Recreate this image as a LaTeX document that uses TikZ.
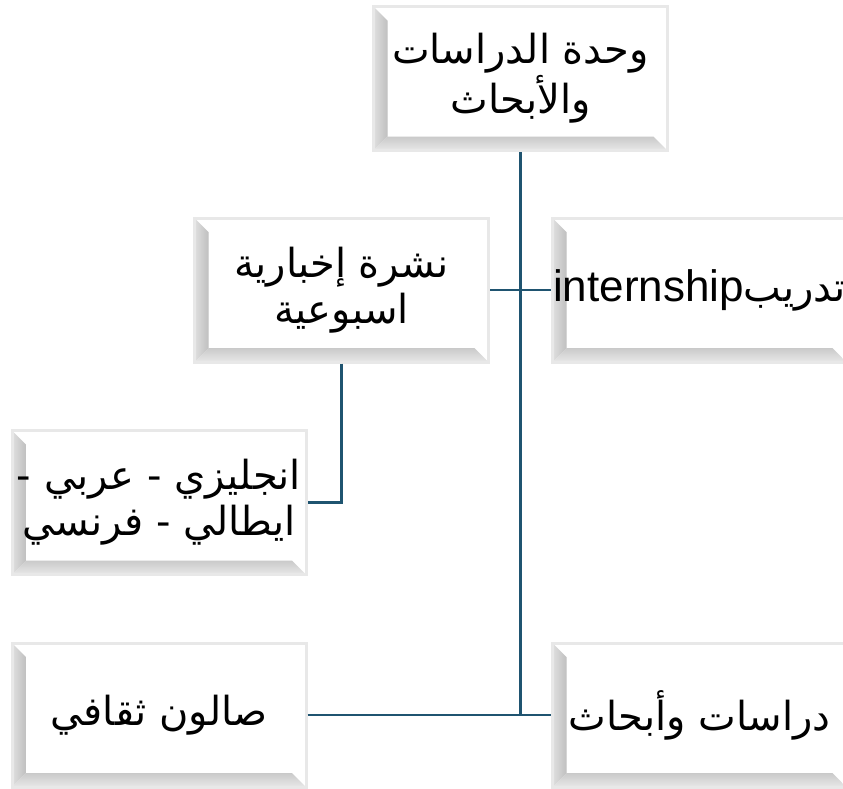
\documentclass[tikz,border=0pt]{standalone}
\usepackage{fontspec}
\usetikzlibrary{calc}
\newfontfamily\arabicfont[Script=Arabic]{DejaVu Sans}
\newfontfamily\latinfont{Liberation Sans}
\TeXXeTstate=1
\definecolor{linkcol}{RGB}{31,84,112}
\tikzset{>=latex}
\tikzset{
	bevelbox/.style={draw=gray!18, line width=1.5pt, fill=white,
		minimum width=147pt, minimum height=72pt, inner sep=0pt, align=center,
		font=\arabicfont\fontsize{20}{23}\selectfont,
		path picture={
			\coordinate (bsw) at (path picture bounding box.south west);
			\coordinate (bnw) at (path picture bounding box.north west);
			\coordinate (bse) at (path picture bounding box.south east);
			\shade[left color=gray!25, right color=gray!50] (bsw) -- (bnw) -- ($(bnw)+(7pt,-7pt)$) -- ($(bsw)+(7pt,7pt)$) -- cycle;
			\shade[bottom color=gray!18, top color=gray!42] (bsw) -- ($(bsw)+(7pt,7pt)$) -- ($(bse)+(-7pt,7pt)$) -- (bse) -- cycle;
		}},
	link/.style={draw=linkcol, line width=1.3pt}
}

\begin{document}
\begin{tikzpicture}[x=0.5pt,y=-0.5pt]
	\useasboundingbox (0,0) rectangle (843,789);
	\clip (0,0) rectangle (843,789);
	
	\node[bevelbox] (unit) at (520.5,78.5) {\beginR وحدة الدراسات\endR\\\beginR والأبحاث\endR};
	\node[bevelbox] (news) at (341.5,290) {\beginR نشرة إخبارية\endR\\\beginR اسبوعية\endR};
	\node[bevelbox] (intern) at (699.5,290) {\beginR تدريب\beginL{\latinfont\fontsize{22}{23}\selectfont internship}\endL\endR};
	\node[bevelbox] (lang) at (159,502.5) {\beginR انجليزي - عربي -\endR\\\beginR ايطالي - فرنسي\endR};
	\node[bevelbox] (salon) at (159,715) {\beginR صالون ثقافي\endR};
	\node[bevelbox] (studies) at (699.5,715) {\beginR دراسات وأبحاث\endR};
	
	\draw[link] (unit.south) -- (unit.south |- studies.west);
	\draw[link] (salon.east) -- (studies.west);
	\draw[link] (news.east) -- (intern.west);
	\draw[link] (news.south) |- (lang.east);
	
\end{tikzpicture}
\end{document}
